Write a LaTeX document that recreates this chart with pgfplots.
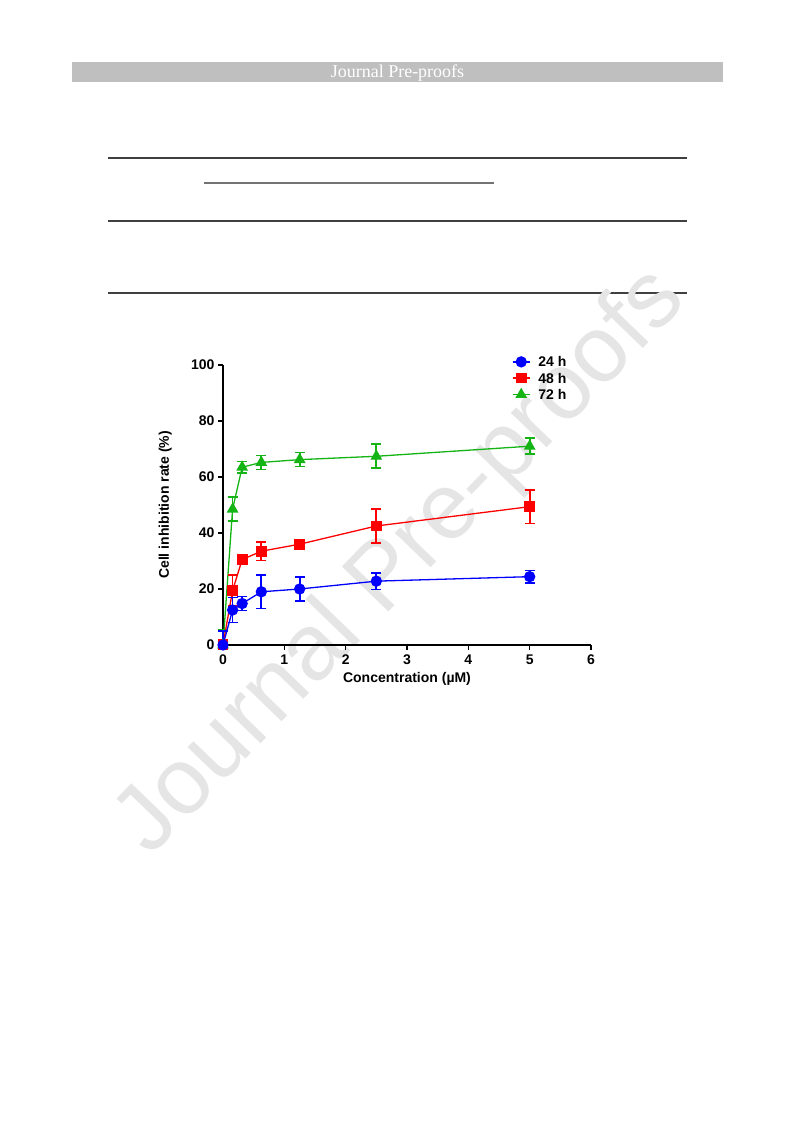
\documentclass[border=0pt]{standalone}
\usepackage{fontspec}
\setmainfont{Liberation Sans}
\newfontfamily\seriffont{Liberation Serif}
\usepackage{pgfplots}
\usepackage{pgfplotstable}
\pgfplotsset{compat=1.18}
\definecolor{cblue}{RGB}{0,0,255}
\definecolor{cred}{RGB}{255,0,0}
\definecolor{cgreen}{RGB}{20,180,20}
\pgfplotstableread{
x y ep em
0 0 5.0 0
0.15625 12.5 4.5 4.5
0.3125 14.8 2.5 2.5
0.625 19.0 6.0 6.0
1.25 20.0 4.3 4.3
2.5 22.8 3.0 3.0
5 24.4 2.2 2.2
}\tblA
\pgfplotstableread{
x y ep em
0 0 1.8 0
0.15625 19.5 5.5 5.5
0.3125 30.5 1.0 1.0
0.625 33.5 3.3 3.3
1.25 36.0 1.0 1.0
2.5 42.5 6.0 6.0
5 49.4 6.0 6.0
}\tblB
\pgfplotstableread{
x y ep em
0 0 5.5 0
0.15625 48.5 4.3 4.3
0.3125 63.5 2.0 2.0
0.625 65.2 2.5 2.5
1.25 66.2 2.5 2.5
2.5 67.4 4.3 4.3
5 71.0 2.9 2.9
}\tblC
\pgfplotsset{
  myerr/.style={error bars/.cd, y dir=both, y explicit,
    error bar style={line width=1.7pt, solid},
    error mark options={rotate=90, line width=1.7pt, mark size=5pt, solid}},
}
\begin{document}
\begin{tikzpicture}[x=1pt,y=1pt]
\fill[white] (0,0) rectangle (793,1121);
% page decorations
\fill[black!25] (72,1039) rectangle (723,1059);
\node[white, font=\seriffont\fontsize{18}{20}\selectfont] at (397.5,1047.5) {Journal Pre-proofs};
\draw[black!75, line width=1.2] (108,963) -- (687,963);
\draw[black!55, line width=1.5] (204,938) -- (494,938);
\draw[black!75, line width=1.2] (108,900) -- (687,900);
\draw[black!75, line width=1.2] (108,828) -- (687,828);
\node[rotate=46, text=black!10, font=\fontsize{94}{100}\selectfont] at (402,558) {Journal Pre-proofs};
\begin{axis}[
  at={(223pt,476pt)}, anchor=south west,
  scale only axis, width=368pt, height=280pt,
  xmin=0, xmax=6, ymin=0, ymax=100, enlargelimits=false,
  axis lines=left, axis line style={-, line width=1.8pt, black},
  xtick={0,1,2,3,4,5,6}, ytick={0,20,40,60,80,100},
  tick align=outside, major tick length=5pt,
  tick style={line width=1.5pt, black},
  ticklabel style={font=\bfseries\fontsize{14}{15}\selectfont},
  xticklabel style={yshift=-1.5pt},
  /pgf/number format/assume math mode=true,
  xlabel={Concentration (µM)},
  ylabel={Cell inhibition rate (\%)},
  every axis x label/.style={at={(axis description cs:0.5,-0.12)}, anchor=center,
    font=\bfseries\fontsize{14}{16}\selectfont},
  every axis y label/.style={at={(axis description cs:-0.157,0.5)}, rotate=90, anchor=center,
    font=\bfseries\fontsize{14}{16}\selectfont},
  clip=false,
  reverse legend,
  legend cell align=left,
  legend style={at={(axis description cs:0.785,1.03)}, anchor=north west, draw=none, fill=none,
    font=\bfseries\fontsize{14}{15}\selectfont, inner sep=0pt, row sep=6pt,
    nodes={inner sep=0pt, text depth=0pt}, column sep=8pt},
  legend image code/.code={\draw[mark repeat=2,mark phase=2] plot coordinates {(0pt,0pt) (8.5pt,0pt) (17pt,0pt)};},
]
\addplot[cgreen, line width=1.3pt, mark=triangle*, mark size=5.5pt, mark options={solid, fill=cgreen}, myerr]
  table[x=x, y=y, y error plus=ep, y error minus=em] {\tblC};
\addlegendentry{72 h}
\addplot[cred, line width=1.3pt, mark=square*, mark size=4.8pt, mark options={solid, fill=cred}, myerr]
  table[x=x, y=y, y error plus=ep, y error minus=em] {\tblB};
\addlegendentry{48 h}
\addplot[cblue, line width=1.3pt, mark=*, mark size=5pt, mark options={solid, fill=cblue}, myerr]
  table[x=x, y=y, y error plus=ep, y error minus=em] {\tblA};
\addlegendentry{24 h}
\end{axis}
\end{tikzpicture}
\end{document}
